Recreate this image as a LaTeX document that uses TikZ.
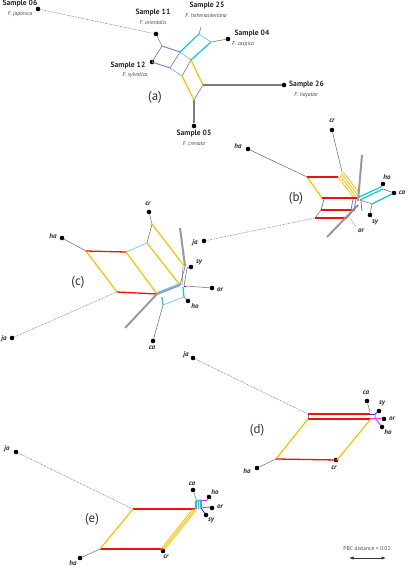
\documentclass[tikz,border=0pt]{standalone}
\usepackage{fontspec}
\setmainfont{PT Sans}
\usetikzlibrary{arrows.meta}
\definecolor{glc}{HTML}{7A7A7A}
\definecolor{gtc}{HTML}{9A9A9A}
\definecolor{yelc}{HTML}{FFBF00}
\definecolor{redc}{HTML}{F01010}
\definecolor{tealc}{HTML}{10C8D8}
\definecolor{lbc}{HTML}{6CC8FF}
\definecolor{pbc}{HTML}{7070FF}
\definecolor{blc}{HTML}{1030FF}
\definecolor{mgc}{HTML}{FF20FF}
\begin{document}
\begin{tikzpicture}[x=1pt,y=-1pt,
  dot/.style={circle,fill=black,inner sep=0pt,minimum size=4.6pt},
  smp/.style={font=\fontsize{7.6}{8}\selectfont\bfseries,inner sep=0pt,text=black!85},
  spc/.style={font=\fontsize{5.6}{6}\selectfont\itshape,inner sep=0pt,text=black!75},
  tip/.style={font=\fontsize{7}{7}\selectfont\bfseries\itshape,inner sep=0pt,text=black!85},
  plab/.style={font=\fontsize{13}{13}\selectfont,inner sep=0pt,text=black!80},
  gl/.style={glc,line width=0.6pt},
  glt/.style={glc,line width=1.1pt},
  gtk/.style={gtc,line width=2pt},
  lgl/.style={black!25,line width=0.6pt},
  yel/.style={yelc,line width=1.2pt},
  yelt/.style={yelc,line width=0.8pt},
  redl/.style={redc,line width=1.3pt},
  teal/.style={tealc,line width=1.2pt},
  lb/.style={lbc,line width=0.7pt},
  lbt/.style={lbc,line width=1.2pt},
  pb/.style={pbc,line width=0.8pt},
  bl/.style={blc,line width=0.8pt},
  mg/.style={mgc,line width=0.9pt},
  dotl/.style={glc,line width=0.6pt,dash pattern=on 0.7pt off 0.9pt}]
\useasboundingbox (0,0) rectangle (407,567);

% ================= panel (a) =================
\node[dot] (a06) at (38,9) {};
\node[smp] (a06t) at (20,4) {Sample 06};
\node[spc] (a06s) at (20,14.5) {F. japonica};
\node[dot] (a11) at (156,34) {};
\node[smp] (a11t) at (153,13) {Sample 11};
\node[spc] (a11s) at (153,23) {F. orientalis};
\coordinate (a25) at (201,27);
\node[smp] (a25t) at (207,6) {Sample 25};
\node[spc] (a25s) at (206,16) {F. hohenackeriana};
\node[dot] (a04) at (228,39) {};
\node[smp] (a04t) at (252,34) {Sample 04};
\node[spc] (a04s) at (243,44) {F. caspica};
\node[dot] (a12) at (152,62) {};
\node[smp] (a12t) at (128,66) {Sample 12};
\node[spc] (a12s) at (135,75.5) {F. sylvatica};
\node[dot] (a26) at (284,85) {};
\node[smp,anchor=west] (a26t) at (289,85) {Sample 26};
\node[spc] (a26s) at (306,95) {F. hayatae};
\node[dot] (a05) at (194,126) {};
\node[smp] (a05t) at (194,134) {Sample 05};
\node[spc] (a05s) at (194,144) {F. crenata};
\node[plab] (alab) at (155,97) {(a)};
\coordinate (A1) at (162,46);
\coordinate (A2) at (180,52);
\coordinate (A3) at (199,34);
\coordinate (A4) at (211,42);
\coordinate (A5) at (191,60);
\coordinate (A6) at (170,68);
\coordinate (A7) at (182,76);
\coordinate (A8) at (203,85);
\coordinate (A9) at (194,100);
\draw[dotl] (a06) -- (a11);
\draw[gl] (a11) -- (A1);
\draw[gl] (A1) -- (a12.center);
\draw[gl] (A2) -- (A6);
\draw[gl] (A5) -- (A7);
\draw[gl] (A8) -- (A9);
\draw[gl] (A3) -- (a25);
\draw[gl] (A4) -- (a04);
\draw[glt] (A8) -- (a26);
\draw[glt] (A9) -- (a05);
\draw[pb] (A1) -- (A2);
\draw[pb] (a12.center) -- (A6);
\draw[teal] (A2) -- (A3);
\draw[teal] (A5) -- (A4);
\draw[lb] (A3) -- (A4);
\draw[lb] (A2) -- (A5);
\draw[lb] (A6) -- (A7);
\draw[yel] (A5) -- (A8);
\draw[yel] (A7) -- (A9);

% ================= panel (b) =================
\node[dot] (bha) at (248,149) {};
\node[tip] (bhat) at (238,146) {ha};
\node[dot] (bcr) at (332,130) {};
\node[tip] (bcrt) at (332,121) {cr};
\node[dot] (bja) at (204,241) {};
\node[tip] (bjat) at (195,243) {ja};
\node[dot] (bho) at (383,184) {};
\node[tip] (bhot) at (387,177) {ho};
\node[dot] (bca) at (394,193) {};
\node[tip] (bcat) at (402,193) {ca};
\node[dot] (bsy) at (370,215) {};
\node[tip] (bsyt) at (375,222) {sy};
\node[tip] (bort) at (361,231) {or};
\node[plab] (blab) at (296,198) {(b)};
\coordinate (B0) at (342,172);
\coordinate (B1) at (307,177);
\coordinate (B1r) at (338,177);
\coordinate (B4) at (322,198);
\coordinate (B4r) at (357,198);
\coordinate (B4b) at (324,199);
\coordinate (B5) at (321,210);
\coordinate (B5r) at (355,210);
\coordinate (B6) at (315,218);
\coordinate (B6r) at (347,218);
\coordinate (BY1a) at (339.7,175.3);
\coordinate (BY2a) at (341.4,173.6);
\coordinate (BY3a) at (343.1,171.9);
\coordinate (BY0b) at (354,198);
\coordinate (BY1b) at (355.7,196.3);
\coordinate (BY2b) at (357.4,194.6);
\coordinate (BY3b) at (359.1,192.9);
\coordinate (BG1) at (362,155);
\coordinate (BG2) at (358,201);
\coordinate (BG3) at (327,237);
\coordinate (BG4) at (358,205);
\coordinate (BT1) at (359,197);
\coordinate (BT2) at (381,187);
\coordinate (BT3) at (360,200);
\coordinate (BT4) at (383,189);
\coordinate (BT5) at (372,204);
\coordinate (BT6) at (392,194);
\coordinate (BO1) at (350,218);
\coordinate (BO2) at (356,227);
\coordinate (BL1) at (353,199);
\coordinate (BL2) at (351,210);
\coordinate (BL3) at (356,199);
\coordinate (BL4) at (354,210);
\coordinate (BL5) at (361,201);
\coordinate (BL6) at (362,211);
\draw[gl] (bha) -- (B1);
\draw[gl] (bcr) -- (B0);
\draw[dotl] (bja) -- (B6);
\draw[gl] (B5) -- (B6);
\draw[pb] (B4b) -- (B5);
\draw[yel] (B1) -- (B4);
\draw[yelt] (B1r) -- (BY0b);
\draw[yelt] (BY1a) -- (BY1b);
\draw[yelt] (BY2a) -- (BY2b);
\draw[yelt] (BY3a) -- (BY3b);
\draw[redl] (B1) -- (B1r);
\draw[redl] (B4) -- (B4r);
\draw[redl] (B5) -- (B5r);
\draw[redl] (B6) -- (B6r);
\draw[pb] (BL1) -- (BL2);
\draw[pb] (BL3) -- (BL4);
\draw[pb] (BL5) -- (BL6);
\draw[gtk] (BG1) -- (BG2);
\draw[gtk] (BG3) -- (BG4);
\draw[gl] (B6r) -- (BG4);
\draw[lgl] (BO1) -- (BO2);
\draw[teal] (BT1) -- (BT2);
\draw[teal] (BT3) -- (BT4);
\draw[teal] (BT5) -- (BT6);
\draw[gl] (BT3) -- (BT5);
\draw[gl] (BT5) -- (bsy);
\draw[gl] (BT4) -- (bca);
\draw[gl] (BT2) -- (bho);

% ================= panel (c) =================
\node[dot] (cha) at (62,238) {};
\node[tip] (chat) at (53,236) {ha};
\node[dot] (ccr) at (149,212) {};
\node[tip] (ccrt) at (148,204) {cr};
\node[dot] (cja) at (12,338) {};
\node[tip] (cjat) at (4,339) {ja};
\node[dot] (csy) at (191,267) {};
\node[tip] (csyt) at (199,262) {sy};
\node[dot] (cor) at (212,288) {};
\node[tip] (cort) at (220,290) {or};
\node[dot] (cho) at (188,301) {};
\node[tip] (chot) at (195,306) {ho};
\node[dot] (cca) at (153,341) {};
\node[tip] (ccat) at (152,348) {ca};
\node[plab] (clab) at (78,282) {(c)};
\coordinate (C1) at (86,251);
\coordinate (C2) at (126,252);
\coordinate (C3) at (147,243);
\coordinate (Ccr) at (152,224);
\coordinate (C4) at (117,292);
\coordinate (C5) at (157,294);
\coordinate (C6) at (180,285);
\coordinate (C7) at (185,267);
\coordinate (C7a) at (183,267);
\coordinate (C6a) at (182,285);
\coordinate (C7b) at (187,268);
\coordinate (C6b) at (184,286);
\coordinate (CG1) at (180,228);
\coordinate (CG2) at (185,266);
\coordinate (CG3) at (125,328);
\coordinate (CB1) at (186,286);
\coordinate (CQ1) at (162,297);
\coordinate (CQ2) at (163,305);
\coordinate (CQ3) at (183,287);
\coordinate (CQ4) at (184,297);
\draw[gl] (cha) -- (C1);
\draw[gl] (C3) -- (Ccr);
\draw[gl] (Ccr) -- (ccr);
\draw[dotl] (cja) -- (C4);
\draw[yel] (C1) -- (C4);
\draw[yel] (C2) -- (C5);
\draw[yel] (C3) -- (C6);
\draw[yel] (Ccr) -- (C7);
\draw[redl] (C1) -- (C2);
\draw[redl] (C4) -- (C5);
\draw[lb] (C2) -- (C3);
\draw[gtk] (CG1) -- (CG2);
\draw[gtk] (CG3) -- (C5);
\draw[gtk] (C5) -- (C6);
\draw[lbt] ([yshift=1.3pt]C5) -- ([yshift=1.3pt]C6);
\draw[gl] (C7) -- (C6);
\draw[gl] (C7a) -- (C6a);
\draw[gl] (C7b) -- (C6b);
\draw[bl] (C6b) -- (CB1);
\draw[gl] (CB1) -- (cor);
\draw[bl] (C7b) -- (csy);
\draw[teal] (CQ1) -- (CQ2);
\draw[teal] (CQ3) -- (CQ4);
\draw[lb] (CQ2) -- (CQ4);
\draw[gl] (CQ4) -- (cho);
\draw[gl] (CQ2) -- (cca);

% ================= panel (d) =================
\node[dot] (dja) at (193,358) {};
\node[tip] (djat) at (186,355) {ja};
\node[dot] (dcr) at (336,460) {};
\node[tip] (dcrt) at (334,468) {cr};
\node[dot] (dha) at (257,468) {};
\node[tip] (dhat) at (247,471) {ha};
\node[dot] (dca) at (367,401) {};
\node[tip] (dcat) at (366,393) {ca};
\node[dot] (dsy) at (379,411) {};
\node[tip] (dsyt) at (382,403) {sy};
\node[dot] (dor) at (384,419) {};
\node[tip] (dort) at (392,419) {or};
\node[dot] (dho) at (382,427) {};
\node[tip] (dhot) at (388,432) {ho};
\node[plab] (dlab) at (257,430) {(d)};
\coordinate (D1) at (308,414);
\coordinate (D1r) at (370,414);
\coordinate (D1b) at (308,419);
\coordinate (D1br) at (370,419);
\coordinate (D2) at (276,459);
\coordinate (D3) at (337,460);
\coordinate (D4) at (370,420);
\coordinate (DC) at (370,412);
\coordinate (DB1) at (375,414);
\coordinate (DB2) at (375,418);
\draw[dotl] (dja) -- (D1);
\draw[gl] (D1) -- (D1b);
\draw[redl] (D1) -- (D1r);
\draw[redl] (D1b) -- (D1br);
\draw[yel] (D1b) -- (D2);
\draw[redl] (D2) -- (D3);
\draw[yel] (D3) -- (D4);
\draw[gl] (D2) -- (dha);
\draw[gl] (dca) -- (DC);
\draw[bl] (D1r) -- (DB1);
\draw[bl] (DB1) -- (dsy);
\draw[mg] (D1br) -- (DB2);
\draw[mg] (DB2) -- (dor);
\draw[mg] (DB2) -- (dho);
\draw[lb] (DB1) -- (DB2);

% ================= panel (e) =================
\node[dot] (eja) at (16,452) {};
\node[tip] (ejat) at (7,449) {ja};
\node[dot] (ecr) at (163,551) {};
\node[tip] (ecrt) at (166,557) {cr};
\node[dot] (eha) at (80,558) {};
\node[tip] (ehat) at (73,563) {ha};
\node[dot] (eca) at (193,490) {};
\node[tip] (ecat) at (192,484) {ca};
\node[dot] (eho) at (209,497) {};
\node[tip] (ehot) at (215,492) {ho};
\node[dot] (eor) at (212,508) {};
\node[tip] (eort) at (220,507) {or};
\node[dot] (esy) at (206,515) {};
\node[tip] (esyt) at (211,520) {sy};
\node[plab] (elab) at (92,519) {(e)};
\coordinate (E1) at (133,509);
\coordinate (E2) at (195,509);
\coordinate (E3) at (100,549);
\coordinate (E4) at (163,549);
\coordinate (E4a) at (161,549);
\coordinate (E2a) at (193,509);
\coordinate (E4b) at (165,549);
\coordinate (E2b) at (197,509);
\coordinate (EC) at (197,502);
\coordinate (EQ1) at (196,501);
\coordinate (EQ2) at (196,509);
\coordinate (EQ3) at (198.5,501);
\coordinate (EQ4) at (198.5,509);
\coordinate (EQ5) at (201,500);
\coordinate (EQ6) at (201,508);
\coordinate (EM1) at (207,500);
\coordinate (EM2) at (209,507);
\draw[dotl] (eja) -- (E1);
\draw[redl] (E1) -- (E2);
\draw[redl] (E3) -- (E4);
\draw[yel] (E1) -- (E3);
\draw[yelt] (E4) -- (E2);
\draw[yelt] (E4a) -- (E2a);
\draw[yelt] (E4b) -- (E2b);
\draw[gl] (E3) -- (eha);
\draw[gl] (eca) -- (EC);
\draw[teal] (EQ1) -- (EQ2);
\draw[teal] (EQ3) -- (EQ4);
\draw[teal] (EQ5) -- (EQ6);
\draw[teal] (EQ1) -- (EQ5);
\draw[mg] (EQ5) -- (EM1);
\draw[mg] (EQ6) -- (EM2);
\draw[teal] (EM1) -- (eho);
\draw[bl] (EM2) -- (eor);
\draw[bl] (EQ6) -- (esy);

% ================= scale bar =================
\node[font=\fontsize{5.6}{6}\selectfont,text=black!70,inner sep=0pt] (pbc) at (367,549) {PBC distance = 0.01};
\coordinate (S1) at (349,558);
\coordinate (S2) at (386,558);
\draw[black!80,line width=0.6pt,{Latex[length=4.5pt,width=3.2pt]}-{Latex[length=4.5pt,width=3.2pt]}] (S1) -- (S2);
\end{tikzpicture}
\end{document}
